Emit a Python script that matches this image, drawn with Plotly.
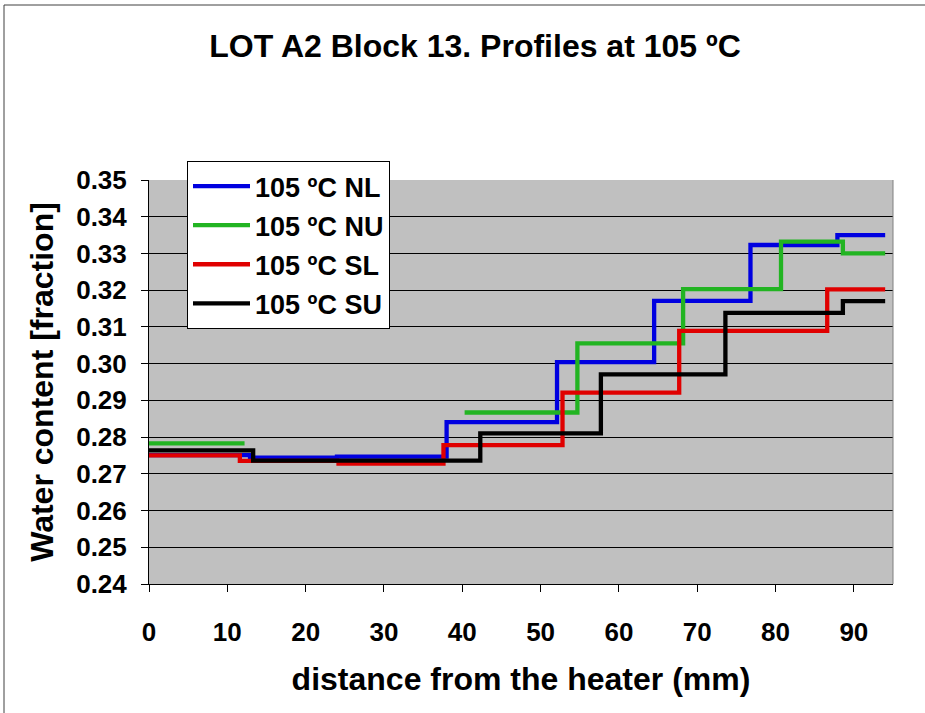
import plotly.graph_objects as go

# ---- data ----
series_names = ["105 ºC NL", "105 ºC NU", "105 ºC SL", "105 ºC SU"]
series_colors = ["#0000E0", "#22B422", "#E00000", "#000000"]

nl_edges = [0, 12.9, 24.0, 38.0, 52.1, 64.5, 76.8, 87.9, 94.0]
nl_values = [0.2751, 0.2744, 0.2747, 0.2841, 0.3004, 0.3171, 0.3323, 0.3350]

nu_edges = [0, 12.2, 40.3, 54.7, 68.2, 80.7, 88.6, 94.0]
nu_values = [0.2783, None, 0.2867, 0.3055, 0.3203, 0.3332, 0.3300]

sl_edges = [0, 11.6, 24.2, 37.6, 52.8, 67.7, 86.6, 94.0]
sl_values = [0.2750, 0.2735, 0.2728, 0.2778, 0.2921, 0.3089, 0.3202]

su_edges = [0, 13.3, 42.3, 57.7, 73.6, 88.6, 94.0]
su_values = [0.2764, 0.2736, 0.2810, 0.2971, 0.3138, 0.3170]

x_ticks = [0, 10, 20, 30, 40, 50, 60, 70, 80, 90]
y_ticks = [0.24, 0.25, 0.26, 0.27, 0.28, 0.29, 0.30, 0.31, 0.32, 0.33, 0.34, 0.35]


def steps(edges, values):
    xs, ys = [], []
    for i, v in enumerate(values):
        if v is None:
            xs.append(None)
            ys.append(None)
            continue
        xs += [edges[i], edges[i + 1]]
        ys += [v, v]
    return xs, ys


FONT = "Liberation Sans, Arial, sans-serif"

fig = go.Figure()
for name, color, e, v in zip(series_names, series_colors,
                             [nl_edges, nu_edges, sl_edges, su_edges],
                             [nl_values, nu_values, sl_values, su_values]):
    xs, ys = steps(e, v)
    fig.add_trace(go.Scatter(x=xs, y=ys, mode="lines", name=name,
                             legendgroup=name,
                             line=dict(color=color, width=4.3),
                             connectgaps=False))

L, R, T, B = 149, 893, 180, 584
W, H = 925, 713


def px_x(p):
    return (p - L) / (R - L)


def px_y(p):
    return (B - p) / (B - T)


fig.update_layout(
    width=W, height=H,
    margin=dict(l=L, r=W - R, t=T, b=H - B, pad=0),
    paper_bgcolor="white",
    plot_bgcolor="#C0C0C0",
    font=dict(family=FONT, color="black", size=26, weight="bold"),
    title=dict(text="LOT A2 Block 13. Profiles at 105 ºC",
               font=dict(family=FONT, size=32, weight="bold", color="black"),
               x=475 / W, xanchor="center", xref="container",
               y=1 - 46 / H, yanchor="middle", yref="container"),
    showlegend=True,
    legend=dict(x=px_x(187), y=px_y(161), xanchor="left", yanchor="top",
                bgcolor="white", bordercolor="black", borderwidth=1,
                font=dict(family=FONT, size=27, weight="bold", color="black"),
                tracegroupgap=1, itemwidth=57),
    xaxis=dict(range=[0, 95], tickvals=x_ticks, ticktext=[str(t) for t in x_ticks],
               showgrid=False, zeroline=False,
               showline=True, linecolor="black", linewidth=1,
               ticks="outside", ticklen=7, tickcolor="black", tickwidth=1,
               ticklabelstandoff=18,
               tickfont=dict(family=FONT, size=26, weight="bold"),
               title=dict(text="distance from the heater (mm)",
                          font=dict(family=FONT, size=32, weight="bold"),
                          standoff=21)),
    yaxis=dict(range=[0.24, 0.35], tickvals=y_ticks,
               ticktext=["%.2f" % t for t in y_ticks],
               showgrid=True, gridcolor="black", gridwidth=1,
               zeroline=False,
               showline=True, linecolor="black", linewidth=1,
               ticks="outside", ticklen=7, tickcolor="black", tickwidth=1,
               ticklabelstandoff=9,
               tickfont=dict(family=FONT, size=26, weight="bold"),
               title=dict(text="Water content [fraction]",
                          font=dict(family=FONT, size=32, weight="bold"),
                          standoff=12)),
)

# plot-area right edge (grey) and outer chart border (left / top)
fig.add_shape(type="line", xref="paper", yref="paper", x0=1, x1=1, y0=0, y1=1,
              line=dict(color="#808080", width=1))
fig.add_shape(type="path", xref="paper", yref="paper",
              path="M %f %f L %f %f L %f %f" % (px_x(4), px_y(720), px_x(4), px_y(5),
                                                px_x(930), px_y(5)),
              line=dict(color="#404040", width=1))

fig.write_html("out.html")
